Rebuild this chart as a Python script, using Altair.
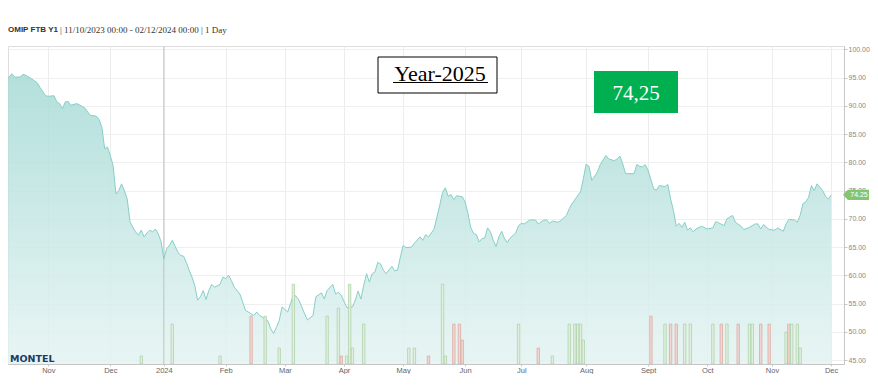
import altair as alt
import pandas as pd

# ---- data (x = trading-day index, 0 = 11/10/2023, 293 = 02/12/2024) ----
trading_day = [
    0, 2, 3, 5, 6, 7, 9, 11, 12, 14,
    15, 17, 18, 19, 20, 21, 22, 23, 25, 26,
    28, 29, 30, 32, 33, 34, 35, 36, 37, 38,
    39, 40, 41, 42, 43, 44, 45, 46, 47, 48,
    49, 50, 51, 52, 53, 54, 55, 56, 57, 58,
    59, 61, 62, 63, 64, 65, 66, 67, 68, 69,
    70, 71, 72, 73, 74, 76, 77, 78, 79, 80,
    81, 83, 84, 85, 87, 88, 89, 90, 92, 93,
    94, 95, 96, 97, 98, 100, 101, 102, 103, 104,
    106, 107, 109, 110, 112, 113, 114, 116, 117, 118,
    119, 121, 123, 124, 125, 126, 127, 128, 129, 130,
    131, 132, 133, 134, 135, 137, 138, 139, 140, 141,
    142, 144, 145, 147, 148, 149, 150, 152, 153, 154,
    155, 156, 157, 158, 159, 160, 162, 163, 164, 165,
    166, 167, 168, 169, 170, 171, 172, 173, 174, 175,
    176, 177, 178, 179, 181, 182, 183, 184, 186, 188,
    189, 191, 192, 193, 194, 196, 197, 199, 200, 201,
    203, 204, 205, 206, 207, 208, 210, 211, 213, 214,
    216, 217, 218, 219, 220, 223, 224, 225, 226, 227,
    228, 230, 231, 232, 234, 235, 236, 237, 238, 239,
    240, 241, 242, 243, 244, 245, 247, 249, 251, 252,
    253, 255, 256, 258, 259, 261, 262, 264, 266, 267,
    268, 269, 271, 273, 274, 276, 277, 278, 280, 281,
    282, 283, 284, 285, 286, 287, 288, 290, 291, 292,
    293,
]
price = [
    94.5, 95.7, 95.1, 95.1, 95.6, 95.4, 94.8, 94.1, 93.3, 91.8,
    91.7, 91.8, 90.7, 90.4, 89.5, 90.7, 90.8, 90.1, 90.4, 90.2,
    89.6, 88.9, 88.3, 88.2, 87.6, 86.2, 82.4, 82.7, 81.2, 79.4,
    74.4, 75.0, 76.2, 75.0, 73.5, 69.5, 68.5, 67.7, 67.1, 68.0,
    66.8, 67.5, 68.0, 67.7, 68.2, 67.4, 66.0, 62.9, 64.7, 65.3,
    66.2, 64.1, 63.5, 63.4, 62.3, 60.9, 59.7, 58.2, 55.6, 56.2,
    57.3, 55.7, 57.3, 58.4, 57.9, 58.4, 59.7, 59.4, 60.0, 59.1,
    57.9, 56.7, 55.3, 53.8, 53.2, 52.9, 53.5, 52.9, 52.3, 51.9,
    50.5, 49.7, 50.8, 52.0, 54.4, 53.5, 55.0, 56.5, 56.3, 55.6,
    53.2, 52.1, 52.9, 56.2, 56.9, 55.8, 57.3, 58.4, 56.7, 57.0,
    56.5, 54.3, 54.4, 55.6, 57.2, 55.8, 58.2, 60.3, 58.8, 60.3,
    60.6, 62.3, 62.0, 60.9, 60.3, 61.6, 60.8, 60.9, 63.2, 65.3,
    64.9, 65.0, 65.7, 66.8, 66.2, 67.2, 66.8, 68.2, 70.3, 72.4,
    74.7, 75.5, 74.0, 74.3, 73.4, 74.1, 73.9, 73.0, 71.0, 68.5,
    67.4, 67.2, 65.9, 66.5, 66.6, 68.4, 67.7, 66.2, 65.1, 66.8,
    67.8, 66.5, 65.8, 66.6, 67.5, 68.8, 69.2, 69.1, 69.8, 69.8,
    69.1, 69.8, 69.8, 69.2, 69.6, 69.4, 69.7, 70.6, 71.8, 72.7,
    74.1, 74.8, 77.1, 79.7, 79.3, 76.8, 78.3, 79.6, 81.2, 80.6,
    80.3, 80.6, 81.1, 79.7, 78.0, 78.0, 79.6, 79.3, 79.2, 79.6,
    78.6, 75.3, 75.1, 75.9, 75.7, 76.1, 73.5, 71.5, 68.7, 69.2,
    68.5, 69.4, 68.0, 68.4, 67.7, 68.2, 68.7, 68.2, 68.4, 69.5,
    69.3, 68.8, 70.0, 70.6, 69.4, 68.7, 68.1, 68.5, 69.1, 69.1,
    68.2, 69.0, 68.1, 68.0, 68.4, 67.8, 69.1, 69.9, 69.8, 69.4,
    70.6, 72.7, 73.0, 73.8, 75.9, 75.0, 76.2, 75.0, 74.0, 73.5,
    74.25,
]

vol_day = [48, 59, 76, 87, 92, 97, 102, 114, 118, 119, 121, 122, 123, 127,
           143, 145, 150, 155, 156, 159, 161, 162, 182, 189, 194,
           200, 202, 203, 204, 205, 229, 234, 236, 238, 241, 243,
           251, 254, 256, 260, 264, 265, 268, 271, 277, 278, 279, 281, 282]
vol_lots = [1, 5, 1, 6, 6, 2, 10, 6, 7, 1, 1, 10, 2, 5,
            2, 2, 1, 10, 1, 5, 5, 3, 5, 2, 1,
            5, 5, 5, 5, 3, 6, 5, 5, 5, 5, 5,
            5, 5, 5, 5, 5, 5, 5, 5, 4, 5, 5, 5, 2]
vol_side = ["up", "up", "up", "down", "up", "up", "up", "up", "up", "down", "up", "up", "up", "up",
            "up", "up", "down", "up", "up", "down", "down", "down", "up", "down", "up",
            "up", "up", "up", "up", "up", "down", "up", "down", "down", "up", "up",
            "up", "down", "up", "down", "up", "up", "down", "down", "up", "down", "up", "up", "up"]

month_ticks = [15, 37, 56, 78, 99, 120, 141, 163, 183, 206, 228, 249, 272, 293]
month_labels = ["Nov", "Dec", "2024", "Feb", "Mar", "Apr", "May", "Jun",
                "Jul", "Aug", "Sept", "Oct", "Nov", "Dec"]
year_break = [56]
y_ticks = [45, 50, 55, 60, 65, 70, 75, 80, 85, 90, 95, 100]
last_price = [74.25]
last_price_label = ["74.25"]

title_bold = "OMIP FTB Y1"
title_rest = "| 11/10/2023 00:00 - 02/12/2024 00:00 | 1 Day"
box_title = "Year-2025"
box_value = "74,25"
logo = "MONTEL"

# ---- chart ----
W, H = 836, 318
x_scale = alt.Scale(domain=[2.44, 295.8], nice=False, zero=False)
y_scale = alt.Scale(domain=[44.3, 100.6], nice=False, zero=False)

prices = pd.DataFrame({"day": trading_day, "price": price})
vols = pd.DataFrame({"day": vol_day, "lots": vol_lots, "side": vol_side})
tag_df = pd.DataFrame({"price": last_price, "t": last_price_label})
rule_df = pd.DataFrame({"day": year_break})

label_expr = "{}[indexof({}, datum.value)]".format(
    "[" + ",".join("'%s'" % m for m in month_labels) + "]",
    "[" + ",".join(str(t) for t in month_ticks) + "]",
)

x_axis = alt.Axis(values=month_ticks, labelExpr=label_expr, grid=True,
                  gridColor="#ececec", domainColor="#c6c6c6", tickColor="#c6c6c6",
                  tickSize=2, labelColor="#666666", labelFontSize=7.5,
                  labelFont="Liberation Sans Narrow, Liberation Sans, sans-serif",
                  labelPadding=0, labelFlush=False, labelOverlap=False, labelAngle=0)
y_axis = alt.Axis(orient="right", values=y_ticks, format=".2f", grid=True,
                  gridColor="#efefef", domainColor="#c6c6c6", tickColor="#c6c6c6",
                  tickSize=3, labelColor="#888888", labelFontSize=7,
                  labelFont="Liberation Sans, sans-serif", labelPadding=1,
                  labelOverlap=False, labelFlush=False)

x_enc = alt.X("day:Q", scale=x_scale, title=None, axis=x_axis)
y_enc = alt.Y("price:Q", scale=y_scale, title=None, axis=y_axis)

area = alt.Chart(prices).mark_area(
    clip=True, fillOpacity=0.85,
    color=alt.Gradient(gradient="linear",
                       stops=[alt.GradientStop(color="#a6dad5", offset=0),
                              alt.GradientStop(color="#e0f2f1", offset=0.5),
                              alt.GradientStop(color="#fafdfd", offset=1)],
                       x1=0, x2=0, y1=0, y2=1),
).encode(x=x_enc, y=y_enc)

year_rule = alt.Chart(rule_df).mark_rule(color="#c4c4c4", strokeWidth=1).encode(x=x_enc)

line = alt.Chart(prices).mark_line(clip=True, color="#86cfc8", strokeWidth=1).encode(
    x=x_enc, y=y_enc)

tag = alt.Chart(tag_df).mark_point(
    shape="M-1,0L-0.62,-0.4L1,-0.4L1,0.4L-0.62,0.4Z", size=676, filled=True,
    color="#86c56e", opacity=1).encode(x=alt.value(848), y=y_enc)
tag_text = alt.Chart(tag_df).mark_text(
    color="white", fontSize=7, font="Liberation Sans", align="center", baseline="middle").encode(
    x=alt.value(851), y=y_enc, text="t:N")

price_layers = alt.layer(area, year_rule, line, tag, tag_text)

bars = alt.Chart(vols).mark_bar(size=2.4, strokeWidth=0.7, clip=True).encode(
    x=x_enc,
    y=alt.Y("lots:Q", scale=alt.Scale(domain=[0, 319 / 8.0], nice=False), axis=None),
    fill=alt.Fill("side:N", scale=alt.Scale(domain=["up", "down"], range=["#e2efdf", "#f3d6d1"]), legend=None),
    stroke=alt.Stroke("side:N", scale=alt.Scale(domain=["up", "down"], range=["#a9cfa3", "#d9a59c"]), legend=None),
)

one = pd.DataFrame({"a": [0]})
t_bold = alt.Chart(one).mark_text(
    text=title_bold, fontWeight="bold", fontSize=8, font="Liberation Sans",
    color="#333333", align="left", baseline="middle").encode(x=alt.value(0), y=alt.value(-16))
t_rest = alt.Chart(one).mark_text(
    text=title_rest, fontSize=9, font="Liberation Serif",
    color="#333333", align="left", baseline="middle").encode(x=alt.value(52), y=alt.value(-16))

box = alt.Chart(one).mark_rect(fill="white", stroke="black", strokeWidth=1).encode(
    x=alt.value(370), x2=alt.value(489), y=alt.value(11), y2=alt.value(47))
box_txt = alt.Chart(one).mark_text(
    text=box_title, fontSize=22, font="Liberation Serif", color="black",
    align="center", baseline="alphabetic").encode(x=alt.value(432), y=alt.value(34.5))
box_ul = alt.Chart(one).mark_rule(color="black", strokeWidth=1.2).encode(
    x=alt.value(385), x2=alt.value(480), y=alt.value(36.5))

gbox = alt.Chart(one).mark_rect(fill="#00b050").encode(
    x=alt.value(586), x2=alt.value(670), y=alt.value(25), y2=alt.value(67))
gbox_txt = alt.Chart(one).mark_text(
    text=box_value, fontSize=21, font="Liberation Serif", color="white",
    align="center", baseline="alphabetic").encode(x=alt.value(628), y=alt.value(54))

logo_txt = alt.Chart(one).mark_text(
    text=logo, fontSize=9.5, fontWeight="bold", font="DejaVu Sans", color="#1b3a66",
    align="left", baseline="middle").encode(x=alt.value(2), y=alt.value(313))

chart = alt.layer(
    price_layers, bars, t_bold, t_rest, box, box_txt, box_ul, gbox, gbox_txt, logo_txt
).resolve_scale(y="independent").properties(
    width=W, height=H,
    padding={"left": 0, "top": 38, "right": 26, "bottom": 10},
    autosize=alt.AutoSizeParams(type="none"),
).configure_view(stroke=None).configure(background="white")

chart.save("out.html", embed_options={"renderer": "svg", "actions": False})
